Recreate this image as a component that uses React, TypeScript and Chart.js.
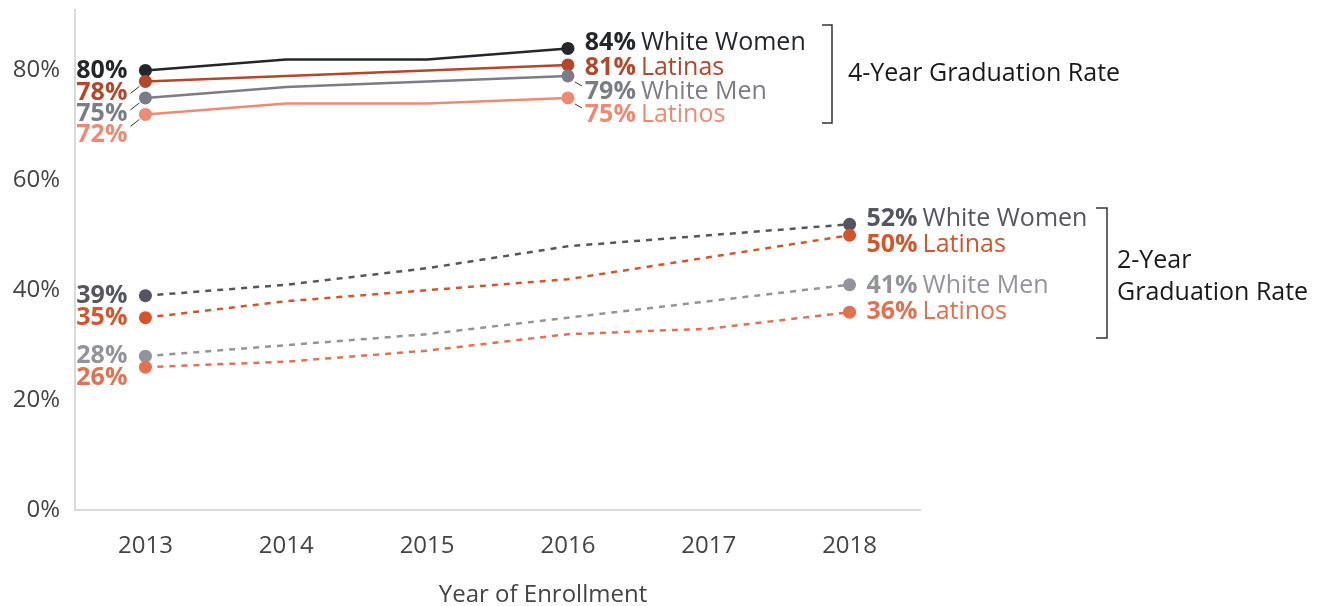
import React, { useEffect, useRef } from "react";
import { Chart, registerables } from "chart.js";
Chart.register(...registerables);

const years = ["2013", "2014", "2015", "2016", "2017", "2018"];
const fourWhiteWomen = [80, 82, 82, 84, null, null];
const fourLatinas = [78, 79, 80, 81, null, null];
const fourWhiteMen = [75, 77, 78, 79, null, null];
const fourLatinos = [72, 74, 74, 75, null, null];
const twoWhiteWomen = [39, 41, 44, 48, 50, 52];
const twoLatinas = [35, 38, 40, 42, 46, 50];
const twoWhiteMen = [28, 30, 32, 35, 38, 41];
const twoLatinos = [26, 27, 29, 32, 33, 36];
const yTickValues = [0, 20, 40, 60, 80];
const groupNames = ["White Women", "Latinas", "White Men", "Latinos"];
const xTitle = "Year of Enrollment";
const fourYearLabel = "4-Year Graduation Rate";
const twoYearLabel = ["2-Year", "Graduation Rate"];

const FONT = "'Open Sans', 'DejaVu Sans', sans-serif";
const FS = 25;
const TICK_FS = 24;

type Series = {
  name: string;
  data: (number | null)[];
  color: string;
  dashed: boolean;
  order: number;
  leftDy: number;
  rightDy: number;
  leftLeader: boolean;
  rightLeader: boolean;
};

const series: Series[] = [
  { name: groupNames[0], data: fourWhiteWomen, color: "#25262a", dashed: false, order: 4, leftDy: 0, rightDy: -6, leftLeader: false, rightLeader: false },
  { name: groupNames[1], data: fourLatinas, color: "#b4472b", dashed: false, order: 3, leftDy: 11, rightDy: 2.5, leftLeader: true, rightLeader: false },
  { name: groupNames[2], data: fourWhiteMen, color: "#7c7c88", dashed: false, order: 2, leftDy: 15.5, rightDy: 15.5, leftLeader: true, rightLeader: true },
  { name: groupNames[3], data: fourLatinos, color: "#ef8a72", dashed: false, order: 1, leftDy: 20, rightDy: 16.5, leftLeader: true, rightLeader: true },
  { name: groupNames[0], data: twoWhiteWomen, color: "#55555f", dashed: true, order: 8, leftDy: 0, rightDy: -5, leftLeader: false, rightLeader: false },
  { name: groupNames[1], data: twoLatinas, color: "#d5552b", dashed: true, order: 7, leftDy: 0, rightDy: 10, leftLeader: false, rightLeader: false },
  { name: groupNames[2], data: twoWhiteMen, color: "#93939b", dashed: true, order: 6, leftDy: 0, rightDy: 1.5, leftLeader: false, rightLeader: false },
  { name: groupNames[3], data: twoLatinos, color: "#e3704f", dashed: true, order: 5, leftDy: 11, rightDy: 0, leftLeader: false, rightLeader: false },
];

const lastIndex = (d: (number | null)[]) => {
  let li = 0;
  d.forEach((v, i) => { if (v !== null) li = i; });
  return li;
};

const labelPlugin = {
  id: "customLabels",
  afterDatasetsDraw(chart: any) {
    const ctx = chart.ctx as CanvasRenderingContext2D;
    ctx.save();
    ctx.textBaseline = "middle";
    series.forEach((s, i) => {
      const meta = chart.getDatasetMeta(i);
      const li = lastIndex(s.data);
      const p0 = meta.data[0];
      const p1 = meta.data[li];
      ctx.font = `bold ${FS}px ${FONT}`;
      ctx.fillStyle = s.color;
      ctx.textAlign = "right";
      ctx.fillText(`${s.data[0]}%`, p0.x - 18, p0.y + s.leftDy);
      ctx.fillText(`${s.data[li]}%`, p1.x + 68, p1.y + s.rightDy);
      ctx.font = `${FS}px ${FONT}`;
      ctx.textAlign = "left";
      ctx.fillText(s.name, p1.x + 73, p1.y + s.rightDy);
      ctx.strokeStyle = "#333";
      ctx.lineWidth = 1;
      if (s.leftLeader) {
        ctx.beginPath();
        ctx.moveTo(p0.x - 15, p0.y + 12);
        ctx.lineTo(p0.x - 6, p0.y + 5);
        ctx.stroke();
      }
      if (s.rightLeader) {
        ctx.beginPath();
        ctx.moveTo(p1.x + 7, p1.y + 6);
        ctx.lineTo(p1.x + 14, p1.y + 10);
        ctx.stroke();
      }
    });
    ctx.strokeStyle = "#333";
    ctx.lineWidth = 1.5;
    const bracket = (x: number, y0: number, y1: number, w: number) => {
      ctx.beginPath();
      ctx.moveTo(x - w, y0);
      ctx.lineTo(x, y0);
      ctx.lineTo(x, y1);
      ctx.lineTo(x - w, y1);
      ctx.stroke();
    };
    bracket(832, 25, 123, 10);
    bracket(1107, 208, 338, 11);
    ctx.fillStyle = "#1a1a1a";
    ctx.font = `${FS}px ${FONT}`;
    ctx.textAlign = "left";
    ctx.fillText(fourYearLabel, 848, 74);
    ctx.fillText(twoYearLabel[0], 1117, 261);
    ctx.fillText(twoYearLabel[1], 1117, 293);
    ctx.fillStyle = "#444";
    ctx.font = `${TICK_FS}px ${FONT}`;
    ctx.textAlign = "center";
    ctx.fillText(xTitle, 543, 595);
    ctx.restore();
  },
};

export default function App() {
  const ref = useRef<HTMLCanvasElement>(null);
  useEffect(() => {
    if (!ref.current) return;
    const chart = new Chart(ref.current, {
      type: "line",
      data: {
        labels: years,
        datasets: series.map((s) => {
          const li = lastIndex(s.data);
          return {
            label: s.name,
            data: s.data,
            borderColor: s.color,
            backgroundColor: s.color,
            borderWidth: 2.5,
            borderDash: s.dashed ? [6, 6] : [],
            order: s.order,
            pointRadius: (c: any) => (c.dataIndex === 0 || c.dataIndex === li ? 6.5 : 0),
            pointHoverRadius: 0,
            pointBorderWidth: 0,
            pointBackgroundColor: s.color,
            tension: 0,
            spanGaps: false,
          };
        }),
      },
      options: {
        responsive: false,
        animation: false,
        layout: { padding: { left: 0, right: 397, top: 10, bottom: 0 } },
        plugins: { legend: { display: false }, tooltip: { enabled: false } },
        scales: {
          x: {
            type: "category",
            offset: true,
            grid: { display: false, drawTicks: false },
            border: { color: "#d9d9d9", width: 2 },
            ticks: { color: "#444", font: { size: TICK_FS, family: FONT }, padding: 22 },
            afterFit: (s: any) => { s.height = 96; s.paddingLeft = 0; s.paddingRight = 0; },
          },
          y: {
            min: 0,
            max: 91,
            grid: { display: false, drawTicks: false },
            border: { color: "#d9d9d9", width: 2 },
            afterBuildTicks: (s: any) => { s.ticks = yTickValues.map((v) => ({ value: v })); },
            ticks: {
              color: "#444",
              font: { size: TICK_FS, family: FONT },
              padding: 15,
              callback: (v: any) => `${v}%`,
            },
            afterFit: (s: any) => { s.width = 75; s.paddingTop = 0; s.paddingBottom = 0; },
          },
        },
      },
      plugins: [labelPlugin],
    });
    return () => chart.destroy();
  }, []);
  return (
    <div style={{ position: "absolute", left: 0, top: 0, width: 1317, height: 606, background: "#fff" }}>
      <canvas ref={ref} width={1317} height={606} style={{ display: "block" }} />
    </div>
  );
}
